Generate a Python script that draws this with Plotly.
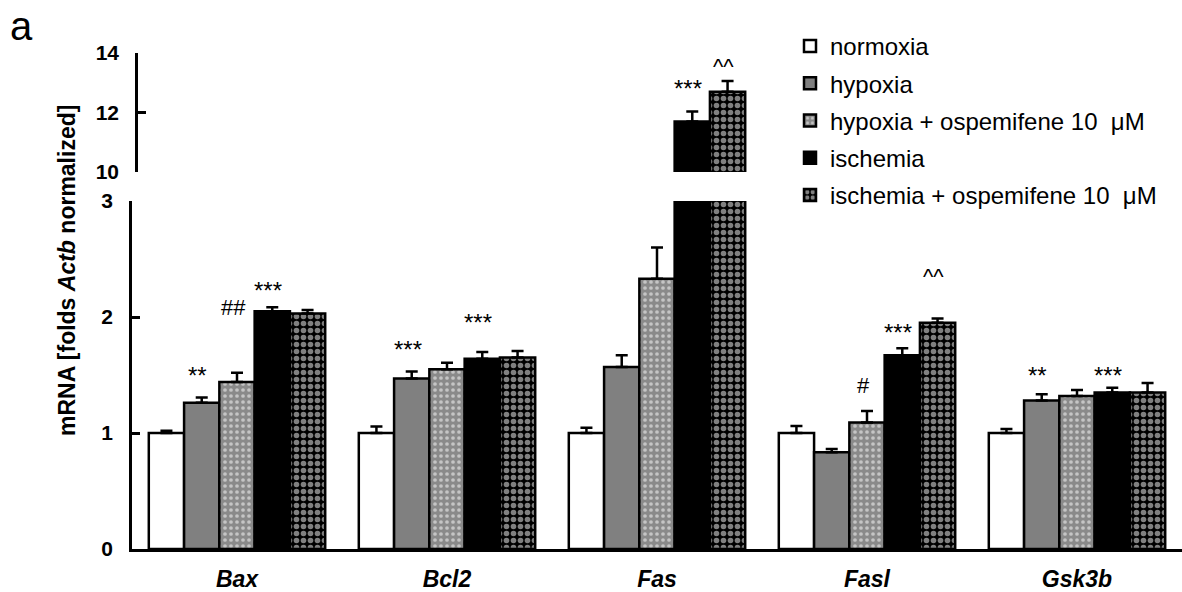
import plotly.graph_objects as go

W, H = 1182, 592

genes = ["Bax", "Bcl2", "Fas", "Fasl", "Gsk3b"]
series_names = ["normoxia", "hypoxia", "hypoxia + ospemifene 10  μM",
                "ischemia", "ischemia + ospemifene 10  μM"]

normoxia = [1.00, 1.00, 1.00, 1.00, 1.00]
hypoxia = [1.26, 1.47, 1.57, 0.835, 1.28]
hypoxia_osp = [1.44, 1.55, 2.33, 1.09, 1.32]
ischemia = [2.05, 1.64, 11.70, 1.67, 1.35]
ischemia_osp = [2.03, 1.65, 12.70, 1.95, 1.35]

normoxia_err = [0.02, 0.055, 0.045, 0.06, 0.035]
hypoxia_err = [0.045, 0.06, 0.10, 0.028, 0.055]
hypoxia_osp_err = [0.08, 0.055, 0.27, 0.10, 0.05]
ischemia_err = [0.035, 0.058, 0.33, 0.06, 0.04]
ischemia_osp_err = [0.03, 0.057, 0.36, 0.038, 0.08]

# significance markers: text, gene index, series index, y value, panel
marks_text = ["**", "##", "***", "***", "***", "***", "^^", "#", "***", "^^", "**", "***"]
marks_gene = [0, 0, 0, 1, 1, 2, 2, 3, 3, 3, 4, 4]
marks_series = [1, 2, 3, 1, 3, 3, 4, 2, 3, 4, 1, 3]
marks_y = [1.56, 2.095, 2.29, 1.776, 2.017, 13.03, 13.76, 1.431, 1.931, 2.405, 1.552, 1.552]
marks_panel = ["y", "y", "y", "y", "y", "y2", "y2", "y", "y", "y", "y", "y"]

values = [normoxia, hypoxia, hypoxia_osp, ischemia, ischemia_osp]
errors = [normoxia_err, hypoxia_err, hypoxia_osp_err, ischemia_err, ischemia_osp_err]

styles = [
    dict(color="white"),
    dict(color="#808080"),
    dict(color="#8a8a8a", pattern=dict(shape=".", fgcolor="white", bgcolor="#8a8a8a",
                                       size=6, solidity=0.3)),
    dict(color="black"),
    dict(color="black", pattern=dict(shape=".", fgcolor="white", bgcolor="black",
                                     size=7, solidity=0.5)),
]

FONT = "Liberation Sans, Arial, sans-serif"
BARGAP = 0.16

fig = go.Figure()
for si, (name, vals, errs, st) in enumerate(zip(series_names, values, errors, styles)):
    marker = dict(line=dict(color="black", width=2.5), **st)
    for yax, show in (("y", True), ("y2", False)):
        fig.add_trace(go.Bar(
            x=genes, y=vals, name=name, marker=marker,
            xaxis="x" if yax == "y" else "x2", yaxis=yax,
            legendgroup=name, showlegend=show,
            error_y=dict(type="data", symmetric=False, array=errs,
                         arrayminus=[0] * len(errs), color="black",
                         thickness=2.5, width=6),
        ))

x0 = 132 / W
lower_dom = [43 / H, 391 / H]
upper_dom = [420 / H, 539 / H]

axis_common = dict(showline=True, linecolor="black", linewidth=2.5, ticks="inside",
                   ticklen=8, tickwidth=2.5, tickcolor="black", showgrid=False,
                   zeroline=False, automargin=False,
                   tickfont=dict(family=FONT, size=21, color="black", weight="bold"),
                   ticklabelstandoff=12)

fig.update_layout(
    width=W, height=H,
    margin=dict(l=0, r=0, t=0, b=0),
    paper_bgcolor="white", plot_bgcolor="white",
    barmode="group", bargap=BARGAP, bargroupgap=0,
    showlegend=True,
    legend=dict(x=790 / W, y=1 - 24 / H, xanchor="left", yanchor="top",
                font=dict(family=FONT, size=24, color="black"),
                tracegroupgap=3, bgcolor="rgba(0,0,0,0)", itemwidth=30),
    xaxis=dict(domain=[x0, 1], anchor="y", showline=True, linecolor="black",
               linewidth=2.5, ticks="", showgrid=False, automargin=False,
               tickfont=dict(family=FONT, size=23, color="black", weight="bold",
                             style="italic"),
               ticklabelstandoff=8),
    xaxis2=dict(domain=[x0, 1], anchor="y2", matches="x", visible=False,
                automargin=False),
    yaxis=dict(domain=lower_dom, range=[0, 3], tickvals=[0, 1, 2, 3], anchor="x",
               **axis_common),
    yaxis2=dict(domain=upper_dom, range=[10, 14], tickvals=[10, 12, 14],
                anchor="free", position=136 / W, **axis_common),
)

w = (1 - BARGAP) / 5
yshift_for = {"*": -7, "#": -2, "^": -6}
for t, g, s, yv, p in zip(marks_text, marks_gene, marks_series, marks_y, marks_panel):
    fig.add_annotation(
        x=g + (s - 2) * w, y=yv, xref="x", yref=p, text=t, showarrow=False,
        xanchor="center", yanchor="middle", xshift=-4, yshift=yshift_for[t[0]],
        font=dict(family=FONT, size=24 if t[0] == "*" else 22, color="black"),
    )

fig.add_annotation(x=67 / W, y=1 - 271 / H, xref="paper", yref="paper",
                   text="<b>mRNA [folds <i>Actb</i> normalized]</b>", textangle=-90,
                   showarrow=False, xanchor="center", yanchor="middle",
                   font=dict(family=FONT, size=23, color="black"))
fig.add_annotation(x=21 / W, y=1 - 26 / H, xref="paper", yref="paper", text="a",
                   showarrow=False, xanchor="center", yanchor="middle",
                   font=dict(family=FONT, size=40, color="black"))

fig.write_html("out.html")
